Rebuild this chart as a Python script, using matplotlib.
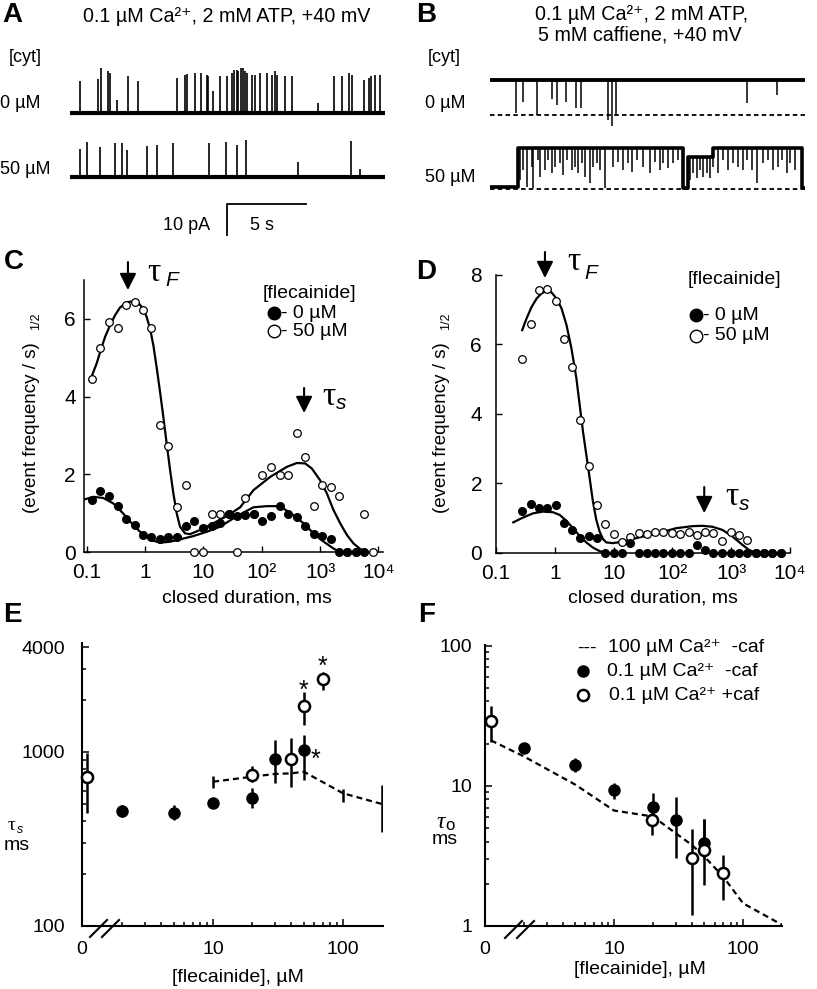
import numpy as np
import matplotlib
matplotlib.use("Agg")
import matplotlib.pyplot as plt
from matplotlib.ticker import FixedLocator, NullLocator, NullFormatter

plt.rcParams["font.family"] = ["Liberation Sans", "DejaVu Sans"]

# ---------------- data ----------------
# A: openings (time s, amplitude pA above closed level)
tA0 = [0.63, 1.79, 1.95, 2.42, 2.52, 2.94, 3.68, 4.26, 6.72, 7.25, 7.35, 7.88, 8.26, 8.61, 8.72,
       9.03, 9.45, 9.87, 10.19, 10.36, 10.50, 10.60, 10.78, 10.92, 11.03, 11.13, 11.45, 11.66, 11.97,
       12.39, 12.71, 12.92, 13.03, 13.55, 13.97, 15.61, 16.66, 17.12, 17.60, 17.75, 18.55, 18.84,
       18.97, 19.22, 19.54]
ampA0 = [10.2, 11.0, 14.5, 13.4, 12.9, 4.3, 11.8, 10.2, 11.3, 12.4, 12.7, 12.9, 12.9, 12.4, 11.8,
         7.0, 11.8, 11.8, 12.9, 14.0, 14.0, 13.4, 14.5, 14.5, 13.4, 12.9, 12.4, 12.4, 12.9,
         12.9, 12.4, 13.4, 12.4, 11.8, 11.8, 3.2, 11.8, 11.8, 12.9, 12.4, 10.8, 11.3,
         11.8, 12.4, 12.4]
tA50 = [0.63, 1.05, 1.89, 2.84, 3.26, 3.57, 4.83, 5.46, 6.51, 8.76, 9.83, 10.5, 11.09, 14.39, 17.69, 18.28]
ampA50 = [9.1, 11.3, 9.7, 10.8, 11.0, 8.8, 9.9, 10.2, 10.8, 10.8, 11.3, 10.2, 12.0, 4.8, 11.6, 2.7]

# B: open-level states and closing events (time s, level pA above closed)
tB0_state = [0]
yB0_state = [11.4]
tB0 = [1.64, 2.10, 2.94, 3.89, 4.24, 4.79, 5.42, 5.71, 7.46, 7.67, 7.94, 16.2, 18.07]
lvB0 = [0.5, 4.3, 0.0, 5.1, 3.2, 4.3, 2.2, 2.2, -1.5, -3.5, 0.0, 3.8, 6.4]
tB50_state = [0, 1.79, 12.18, 12.5, 14.08, 19.64]
yB50_state = [0.6, 13.2, 0.3, 10.5, 13.2, 0.3]
tB50 = [1.89, 2.06, 2.31, 2.63, 2.73, 3.05, 3.15, 3.47, 3.68, 3.89, 4.10, 4.41, 4.62, 4.87, 5.15,
        5.36, 5.57, 5.78, 5.99, 6.30, 6.51, 6.72, 6.93, 7.25, 7.77, 8.09, 8.40, 8.72, 8.93, 9.24,
        9.66, 10.08, 10.40, 10.71, 10.92, 11.24, 11.55, 11.87, 12.61, 12.82, 13.03, 13.24, 13.45,
        13.66, 13.87, 14.08, 14.39, 14.71, 15.02, 15.34, 15.65, 15.97, 16.18, 16.49, 16.81, 17.23,
        17.54, 17.86, 18.17, 18.38, 18.70, 18.91, 19.22]
lvB50 = [3.0, 6.2, 0.9, 7.3, 0.3, 9.5, 4.1, 6.2, 9.5, 5.2, 7.3, 8.4, 4.6, 9.5, 6.2,
         7.3, 5.2, 8.4, 4.1, 1.9, 7.3, 8.4, 6.2, 0.3, 7.3, 8.9, 6.2, 8.4, 5.7, 9.5,
         7.3, 5.2, 8.9, 6.2, 8.4, 6.8, 8.4, 9.5, 3.0, 5.2, 3.5, 6.2, 4.1,
         5.2, 3.5, 7.3, 5.2, 9.5, 6.2, 8.4, 7.3, 6.2, 9.5, 6.2, 1.9, 8.4,
         9.5, 6.2, 7.3, 9.5, 5.2, 8.4, 6.2]
trace_len = 19.85

# C: closed-time histograms, (event frequency / s)^1/2
binsC = [0.125, 0.172, 0.242, 0.34, 0.48, 0.665, 0.925, 1.29, 1.79, 2.52, 3.54, 4.99, 6.92, 9.77,
         13.8, 19.1, 27.1, 37.8, 52.7, 74, 103, 145, 202, 280, 395, 556, 774, 1087, 1514, 2120,
         2950, 4100, 5750, 8150]
openC = [4.46, 5.26, 5.92, 5.76, 6.35, 6.43, 6.23, 5.77, 3.27, 2.74, 1.15, 1.72, 0, 0,
         0.98, 0.98, 0.98, 0, 1.39, 0.99, 1.98, 2.19, 1.99, 1.98, 3.05, 2.45, 1.18, 1.72, 1.68, 1.44,
         0, 0, 0.98, 0]
filledC = [1.34, 1.57, 1.44, 1.18, 0.84, 0.685, 0.44, 0.38, 0.33, 0.38, 0.38, 0.67, 0.80, 0.61,
           0.67, 0.74, 0.98, 0.92, 0.95, 0.99, 0.81, 0.93, 1.18, 0.98, 0.89, 0.67, 0.46, 0.41, 0.33, 0,
           0, 0, 0]
fitC_open_x = [0.122, 0.148, 0.174, 0.206, 0.251, 0.306, 0.372, 0.485, 0.631, 0.768, 0.936, 1.07,
               1.22, 1.39, 1.58, 1.81, 2.06, 2.35, 2.69, 3.06, 3.50, 3.98, 4.85, 5.91, 8.77, 14.9,
               25.2, 42.7, 72.1, 139, 269, 400, 555, 722, 1000, 1308, 1700, 2212, 2884, 3742, 4874, 6353]
fitC_open_y = [4.52, 4.85, 5.19, 5.53, 5.83, 6.09, 6.29, 6.43, 6.45, 6.41, 6.26, 6.04,
               5.75, 5.32, 4.76, 4.12, 3.48, 2.79, 2.11, 1.51, 0.99, 0.65, 0.48, 0.46, 0.565, 0.74,
               0.925, 1.15, 1.59, 1.93, 2.19, 2.29, 2.28, 2.15, 1.85, 1.51, 1.08, 0.74, 0.44, 0.22, 0.077, 0]
fitC_fill_x = [0.09, 0.130, 0.193, 0.286, 0.424, 0.631, 0.936, 1.39, 1.81, 2.69, 3.98, 6.75, 11.4,
               19.3, 37.4, 72.1, 122, 181, 236, 350, 520, 771, 1143, 1700, 2212]
fitC_fill_y = [1.35, 1.42, 1.39, 1.25, 0.99, 0.69, 0.44, 0.29, 0.24, 0.265, 0.325, 0.41, 0.52,
               0.65, 0.92, 1.15, 1.18, 1.18, 1.12, 0.95, 0.74, 0.48, 0.27, 0.09, 0]
tauC = [0.51, 533]

# D
binsD = [0.279, 0.387, 0.529, 0.741, 1.04, 1.42, 1.96, 2.69, 3.77, 5.21, 7.22, 10.0, 13.9, 19.3,
         26.9, 37.0, 51.0, 70.5, 98.5, 135, 189, 260, 362, 495, 700, 988, 1368, 1889, 2600, 3600,
         5000, 6900]
openD = [5.58, 6.58, 7.57, 7.61, 7.26, 6.16, 5.34, 3.82, 2.50, 1.37, 0.82, 0.53, 0.30, 0.44,
         0.55, 0.52, 0.60, 0.60, 0.57, 0.53, 0.60, 0.50, 0.60, 0.57, 0.34, 0.60, 0.50, 0.36, 0, 0,
         0, 0]
filledD = [1.20, 1.41, 1.29, 1.29, 1.37, 0.84, 0.65, 0.41, 0.48, 0.41, 0, 0, 0, 0.26,
           0, 0, 0, 0, 0, 0, 0, 0.22, 0.07, 0, 0, 0, 0, 0, 0, 0,
           0, 0]
fitD_open_x = [0.279, 0.331, 0.403, 0.49, 0.594, 0.723, 0.879, 1.07, 1.30, 1.58, 1.92, 2.33, 2.65,
               3.02, 3.44, 3.92, 4.46, 5.08, 5.79, 6.59, 7.51, 9.73, 14.4, 21.2, 31.4, 52.8, 115,
               221, 327, 483, 713, 1052, 1556, 2018, 2618]
fitD_open_y = [6.41, 6.75, 7.08, 7.32, 7.47, 7.54, 7.50, 7.32, 7.04, 6.56, 5.88, 5.02, 4.25,
               3.48, 2.81, 2.14, 1.46, 0.94, 0.60, 0.39, 0.29, 0.27, 0.31, 0.39, 0.46, 0.54, 0.70,
               0.76, 0.77, 0.74, 0.65, 0.46, 0.22, 0.07, 0]
fitD_fill_x = [0.197, 0.29, 0.428, 0.634, 0.935, 1.22, 1.58, 2.04, 2.65, 3.44, 4.46, 5.79, 7.03]
fitD_fill_y = [0.87, 1.01, 1.13, 1.18, 1.16, 1.08, 0.91, 0.70, 0.48, 0.29, 0.14, 0.04, 0]
tauD = [0.68, 348]

# E: tau_s (ms) vs [flecainide] (uM)
concE_fill = [2, 5, 10, 20, 30, 50]
tauE_fill = [460, 448, 511, 546, 912, 1026]
loE_fill = [421, 404, 481, 475, 666, 690]
hiE_fill = [496, 496, 535, 618, 1172, 1253]
concE_caf = [0, 20, 40, 50, 70]
tauE_caf = [721, 738, 912, 1837, 2617]
loE_caf = [446, 675, 631, 1429, 2271]
hiE_caf = [982, 831, 1199, 2222, 2893]
concE_hi = [10, 20, 30, 40, 50, 100, 200]
tauE_hi = [675, 721, 748, 754, 770, 579, 502]
loE_hi = [618, 721, 748, 754, 770, 518, 348]
hiE_hi = [731, 721, 748, 754, 770, 610, 646]

# F: tau_o (ms) vs [flecainide] (uM)
concF_fill = [2, 5, 10, 20, 30, 50]
tauF_fill = [18.6, 14.1, 9.36, 7.1, 5.7, 3.94]
loF_fill = [17.6, 12.6, 8.04, 5.71, 3.04, 3.0]
hiF_fill = [19.6, 15.8, 10.4, 8.87, 8.3, 5.78]
concF_caf = [0, 19.5, 40, 50, 70]
tauF_caf = [28.8, 5.7, 3.04, 3.49, 2.40]
loF_caf = [20.7, 4.47, 1.2, 1.96, 1.53]
hiF_caf = [37.3, 6.93, 4.9, 5.78, 3.21]
concF_hi = [0, 2, 5, 10, 20, 30, 40, 50, 70, 100, 200]
tauF_hi = [21.1, 16.2, 10.2, 6.66, 6.04, 4.59, 3.79, 3.13, 2.25, 1.45, 1.02]

# ---------------- figure ----------------
W, H = 817, 989
fig = plt.figure(figsize=(W / 100, H / 100), dpi=100)


def add_ax(l, t, r, b):
    return fig.add_axes([l / W, 1 - b / H, (r - l) / W, (b - t) / H])


ov = fig.add_axes([0, 0, 1, 1], zorder=10)
ov.set_xlim(0, W)
ov.set_ylim(H, 0)
ov.axis("off")


def txt(x, y, s, **kw):
    kw.setdefault("fontsize", 13)
    kw.setdefault("va", "center")
    ov.text(x, y, s, **kw)


def tau_label(x, y, sub, size=24, subsize=15, dx=18, dy=5, tau_style="normal", sub_style="italic"):
    ov.text(x, y, "τ", fontsize=size, family="Liberation Serif", style=tau_style, va="baseline")
    ov.text(x + dx, y + dy, sub, fontsize=subsize, style=sub_style, va="baseline")


# panel letters
for lab, x, y in [("A", 2, 15), ("B", 416, 15), ("C", 4, 262), ("D", 416, 272), ("E", 3, 615), ("F", 418, 615)]:
    txt(x, y, lab, fontsize=20, fontweight="bold", ha="left")

# ---- A ----
axA = add_ax(70, 60, 385, 240)
axA.set_xlim(0, trace_len)
axA.set_ylim(-20.3, 37.7)
axA.axis("off")
offA = 20.6
axA.plot([0, trace_len], [offA, offA], color="k", lw=3.0, solid_capstyle="butt")
axA.vlines(tA0, offA, offA + np.array(ampA0), color="k", lw=1.2)
axA.plot([0, trace_len], [0, 0], color="k", lw=3.0, solid_capstyle="butt")
axA.vlines(tA50, 0, ampA50, color="k", lw=1.2)
bar_t, bar_y = 9.89, -8.7
axA.plot([bar_t, bar_t, bar_t + 5], [bar_y - 10, bar_y, bar_y], color="k", lw=1.3)
axA.text(bar_t - 1.05, bar_y - 6.8, "10 pA", ha="right", va="center", fontsize=13)
axA.text(bar_t + 2.2, bar_y - 6.8, "5 s", ha="center", va="center", fontsize=13)

txt(227, 17, "0.1 µM Ca²⁺, 2 mM ATP, +40 mV", ha="center", fontsize=14.2)
txt(25, 57, "[cyt]", ha="center")
txt(0, 103, "0 µM", ha="left")
txt(0, 170, "50 µM", ha="left")

# ---- B ----
axB = add_ax(490, 60, 805, 205)
axB.set_xlim(0, trace_len)
axB.set_ylim(-5.06, 41.7)
axB.axis("off")
offB = 24.0
axB.step(tB0_state + [trace_len], np.array(yB0_state + [yB0_state[-1]]) + offB, where="post",
         color="k", lw=2.8)
baseB0 = np.array(yB0_state)[np.searchsorted(tB0_state, tB0, side="right") - 1]
axB.vlines(tB0, offB + baseB0, offB + np.array(lvB0), color="k", lw=1.1)
axB.plot([0, trace_len], [offB, offB], color="k", lw=1.3, dashes=(2.5, 1.8))
axB.step(tB50_state + [trace_len], yB50_state + [yB50_state[-1]], where="post", color="k", lw=2.6)
baseB50 = np.array(yB50_state)[np.searchsorted(tB50_state, tB50, side="right") - 1]
axB.vlines(tB50, baseB50, lvB50, color="k", lw=1.1)
axB.plot([0, trace_len], [0, 0], color="k", lw=1.3, dashes=(2.5, 1.8))

txt(642, 15, "0.1 µM Ca²⁺, 2 mM ATP,", ha="center", fontsize=14.2)
txt(640, 35, "5 mM caffiene, +40 mV", ha="center", fontsize=14.2)
txt(444, 58, "[cyt]", ha="center")
txt(425, 103, "0 µM", ha="left")
txt(425, 177, "50 µM", ha="left")


# ---- C and D ----
def hist_axes(box, xlim, ylim, yticks, ypad):
    ax = add_ax(*box)
    ax.set_xscale("log")
    ax.set_xlim(*xlim)
    ax.set_ylim(*ylim)
    for s in ["top", "right"]:
        ax.spines[s].set_visible(False)
    for s in ["left", "bottom"]:
        ax.spines[s].set_linewidth(1.1)
    ax.set_xticks([0.1, 1, 10, 100, 1000, 10000], ["0.1", "1", "10", "10²", "10³", "10⁴"])
    ax.xaxis.set_minor_locator(NullLocator())
    ax.set_yticks(yticks)
    ax.tick_params(direction="in", length=4, width=1, labelsize=15)
    ax.tick_params(axis="x", pad=8)
    ax.tick_params(axis="y", pad=ypad)
    return ax


axC = hist_axes((84, 280, 383, 552), (0.09, 12000), (0, 7), [0, 2, 4, 6], 6)
axC.plot(fitC_open_x, fitC_open_y, color="k", lw=1.6, zorder=2)
axC.plot(fitC_fill_x, fitC_fill_y, color="k", lw=1.6, zorder=2)
axC.plot(binsC, openC, "o", mfc="white", mec="k", mew=0.9, ms=5.5, clip_on=False, zorder=3)
axC.plot(binsC[:len(filledC)], filledC, "o", color="k", ms=5.5, clip_on=False, zorder=4)

axD = hist_axes((496, 275, 790, 552.5), (0.1, 10000), (0, 8), [0, 2, 4, 6, 8], 10)
axD.plot(fitD_open_x, fitD_open_y, color="k", lw=1.6, zorder=2)
axD.plot(fitD_fill_x, fitD_fill_y, color="k", lw=1.6, zorder=2)
axD.plot(binsD, openD, "o", mfc="white", mec="k", mew=0.9, ms=5.5, clip_on=False, zorder=3)
axD.plot(binsD, filledD, "o", color="k", ms=5.5, clip_on=False, zorder=4)


def tau_arrow(ax, x, y0, y1):
    ax.annotate("", xy=(x, y0), xytext=(x, y1), xycoords=("data", "axes fraction"),
                textcoords=("data", "axes fraction"), annotation_clip=False,
                arrowprops=dict(arrowstyle="-|>", color="k", lw=1.5, mutation_scale=25,
                                shrinkA=0, shrinkB=0))


tau_arrow(axC, tauC[0], 0.963, 1.066)
tau_arrow(axC, tauC[1], 0.511, 0.603)
tau_arrow(axD, tauD[0], 0.989, 1.083)
tau_arrow(axD, tauD[1], 0.142, 0.236)
tau_label(147, 281, "F")
tau_label(322, 405, "s", dx=14, dy=4)
tau_label(567, 270, "F", dx=17, dy=9)
tau_label(725, 505, "s", dx=14, dy=5)

for x0, y0 in [(263, 293), (688, 280)]:
    txt(x0, y0, "[flecainide]", ha="left", fontsize=14)
for mx, y1, y2 in [(274, 313, 331), (696, 315, 336)]:
    ov.plot(mx, y1, "o", color="k", ms=9)
    ov.plot(mx, y2, "o", mfc="white", mec="k", mew=1.0, ms=9)
    txt(mx + 7, y1, "- 0 µM", ha="left", fontsize=14)
    txt(mx + 7, y2, "- 50 µM", ha="left", fontsize=14)

for x in [32, 442]:
    txt(x, 428, "(event frequency / s)", rotation=90, ha="center", fontsize=13.5)
    txt(x + 4, 321, "1/2", rotation=90, ha="center", fontsize=9)
txt(247, 598, "closed duration, ms", ha="center", fontsize=14)
txt(653, 598, "closed duration, ms", ha="center", fontsize=14)


# ---- E and F ----
def conc_axes(box, xlim, ylim, yticks, ylabels, yminor, ypad):
    ax = add_ax(*box)
    ax.set_xscale("log")
    ax.set_yscale("log")
    ax.set_xlim(*xlim)
    ax.set_ylim(*ylim)
    for s in ["top", "right"]:
        ax.spines[s].set_visible(False)
    for s in ["left", "bottom"]:
        ax.spines[s].set_linewidth(1.5)
    ax.set_xticks([xlim[0], 10, 100], ["0", "10", "100"])
    ax.xaxis.set_minor_locator(FixedLocator([2, 3, 4, 5, 6, 7, 8, 9, 20, 30, 40, 50, 60, 70, 80, 90]))
    ax.xaxis.set_minor_formatter(NullFormatter())
    ax.set_yticks(yticks, ylabels)
    ax.yaxis.set_minor_locator(FixedLocator(yminor))
    ax.yaxis.set_minor_formatter(NullFormatter())
    ax.tick_params(which="both", direction="in", width=1.1, labelsize=14)
    ax.tick_params(which="major", length=5)
    ax.tick_params(which="minor", length=3)
    ax.tick_params(axis="x", pad=11)
    ax.tick_params(axis="y", pad=ypad)
    return ax


def zero_at(c, z):
    return [z if v == 0 else v for v in c]


def err(y, lo, hi):
    return [np.subtract(y, lo), np.subtract(hi, y)]


axE = conc_axes((82, 643, 383, 926), (0.98, 203), (100, 4230), [100, 1000, 4000],
                ["100", "1000", "4000"], [200, 300, 400, 500, 600, 700, 800, 900, 2000, 3000], 12)
axE.errorbar(concE_hi, tauE_hi, yerr=err(tauE_hi, loE_hi, hiE_hi), fmt="none", ecolor="k",
             elinewidth=1.8, capsize=0)
axE.plot(concE_hi, tauE_hi, color="k", lw=1.6, dashes=(2.7, 1.8))
axE.errorbar(concE_fill, tauE_fill, yerr=err(tauE_fill, loE_fill, hiE_fill), fmt="o", color="k",
             ms=8, elinewidth=1.8, capsize=0, zorder=4)
axE.errorbar(zero_at(concE_caf, 1.07), tauE_caf, yerr=err(tauE_caf, loE_caf, hiE_caf), fmt="o",
             mfc="white", mec="k", mew=1.8, ms=8, ecolor="k", elinewidth=1.8, capsize=0,
             zorder=5, clip_on=False)
for (cx, cy, dx, dy) in [(50, tauE_caf[3], 0, 15), (70, tauE_caf[4], 0, 12), (50, tauE_fill[5], 12, -10)]:
    axE.annotate("*", xy=(cx, cy), xytext=(dx, dy), textcoords="offset pixels", ha="center",
                 va="center", fontsize=18)

axF = conc_axes((485, 645, 782, 926), (1.0, 200), (1, 101), [1, 10, 100], ["1", "10", "100"],
                [2, 3, 4, 5, 6, 7, 8, 9, 20, 30, 40, 50, 60, 70, 80, 90], 9)
axF.plot(zero_at(concF_hi, 1.11), tauF_hi, color="k", lw=1.6, dashes=(2.7, 1.8))
axF.errorbar(concF_fill, tauF_fill, yerr=err(tauF_fill, loF_fill, hiF_fill), fmt="o", color="k",
             ms=8, elinewidth=1.8, capsize=0, zorder=4)
axF.errorbar(zero_at(concF_caf, 1.11), tauF_caf, yerr=err(tauF_caf, loF_caf, hiF_caf), fmt="o",
             mfc="white", mec="k", mew=1.8, ms=8, ecolor="k", elinewidth=1.8, capsize=0,
             zorder=5, clip_on=False)

# axis breaks
for x0 in [90, 102]:
    ov.plot([x0, x0 + 17], [937, 920], color="k", lw=1.5)
for x0 in [505, 517]:
    ov.plot([x0, x0 + 17], [938, 921], color="k", lw=1.5)

# labels E / F
tau_label(8, 830, "s", size=14, subsize=9, dx=9, dy=3)
txt(17, 845, "ms", ha="center", fontsize=14)
tau_label(436, 828, "o", size=17, subsize=12, dx=9, dy=2, tau_style="italic", sub_style="normal")
txt(445, 840, "ms", ha="center", fontsize=14)
txt(238, 977, "[flecainide], µM", ha="center", fontsize=14)
txt(640, 969, "[flecainide], µM", ha="center", fontsize=14)

# legend F
txt(577, 648, "---", ha="left", fontsize=14)
txt(608, 648, "100 µM Ca²⁺  -caf", ha="left", fontsize=14)
ov.plot(583, 671, "o", color="k", ms=8)
txt(607, 671, "0.1 µM Ca²⁺  -caf", ha="left", fontsize=14)
ov.plot(583, 695, "o", mfc="white", mec="k", mew=1.8, ms=8)
txt(609, 695, "0.1 µM Ca²⁺ +caf", ha="left", fontsize=14)

fig.savefig("out.png", dpi=100)
